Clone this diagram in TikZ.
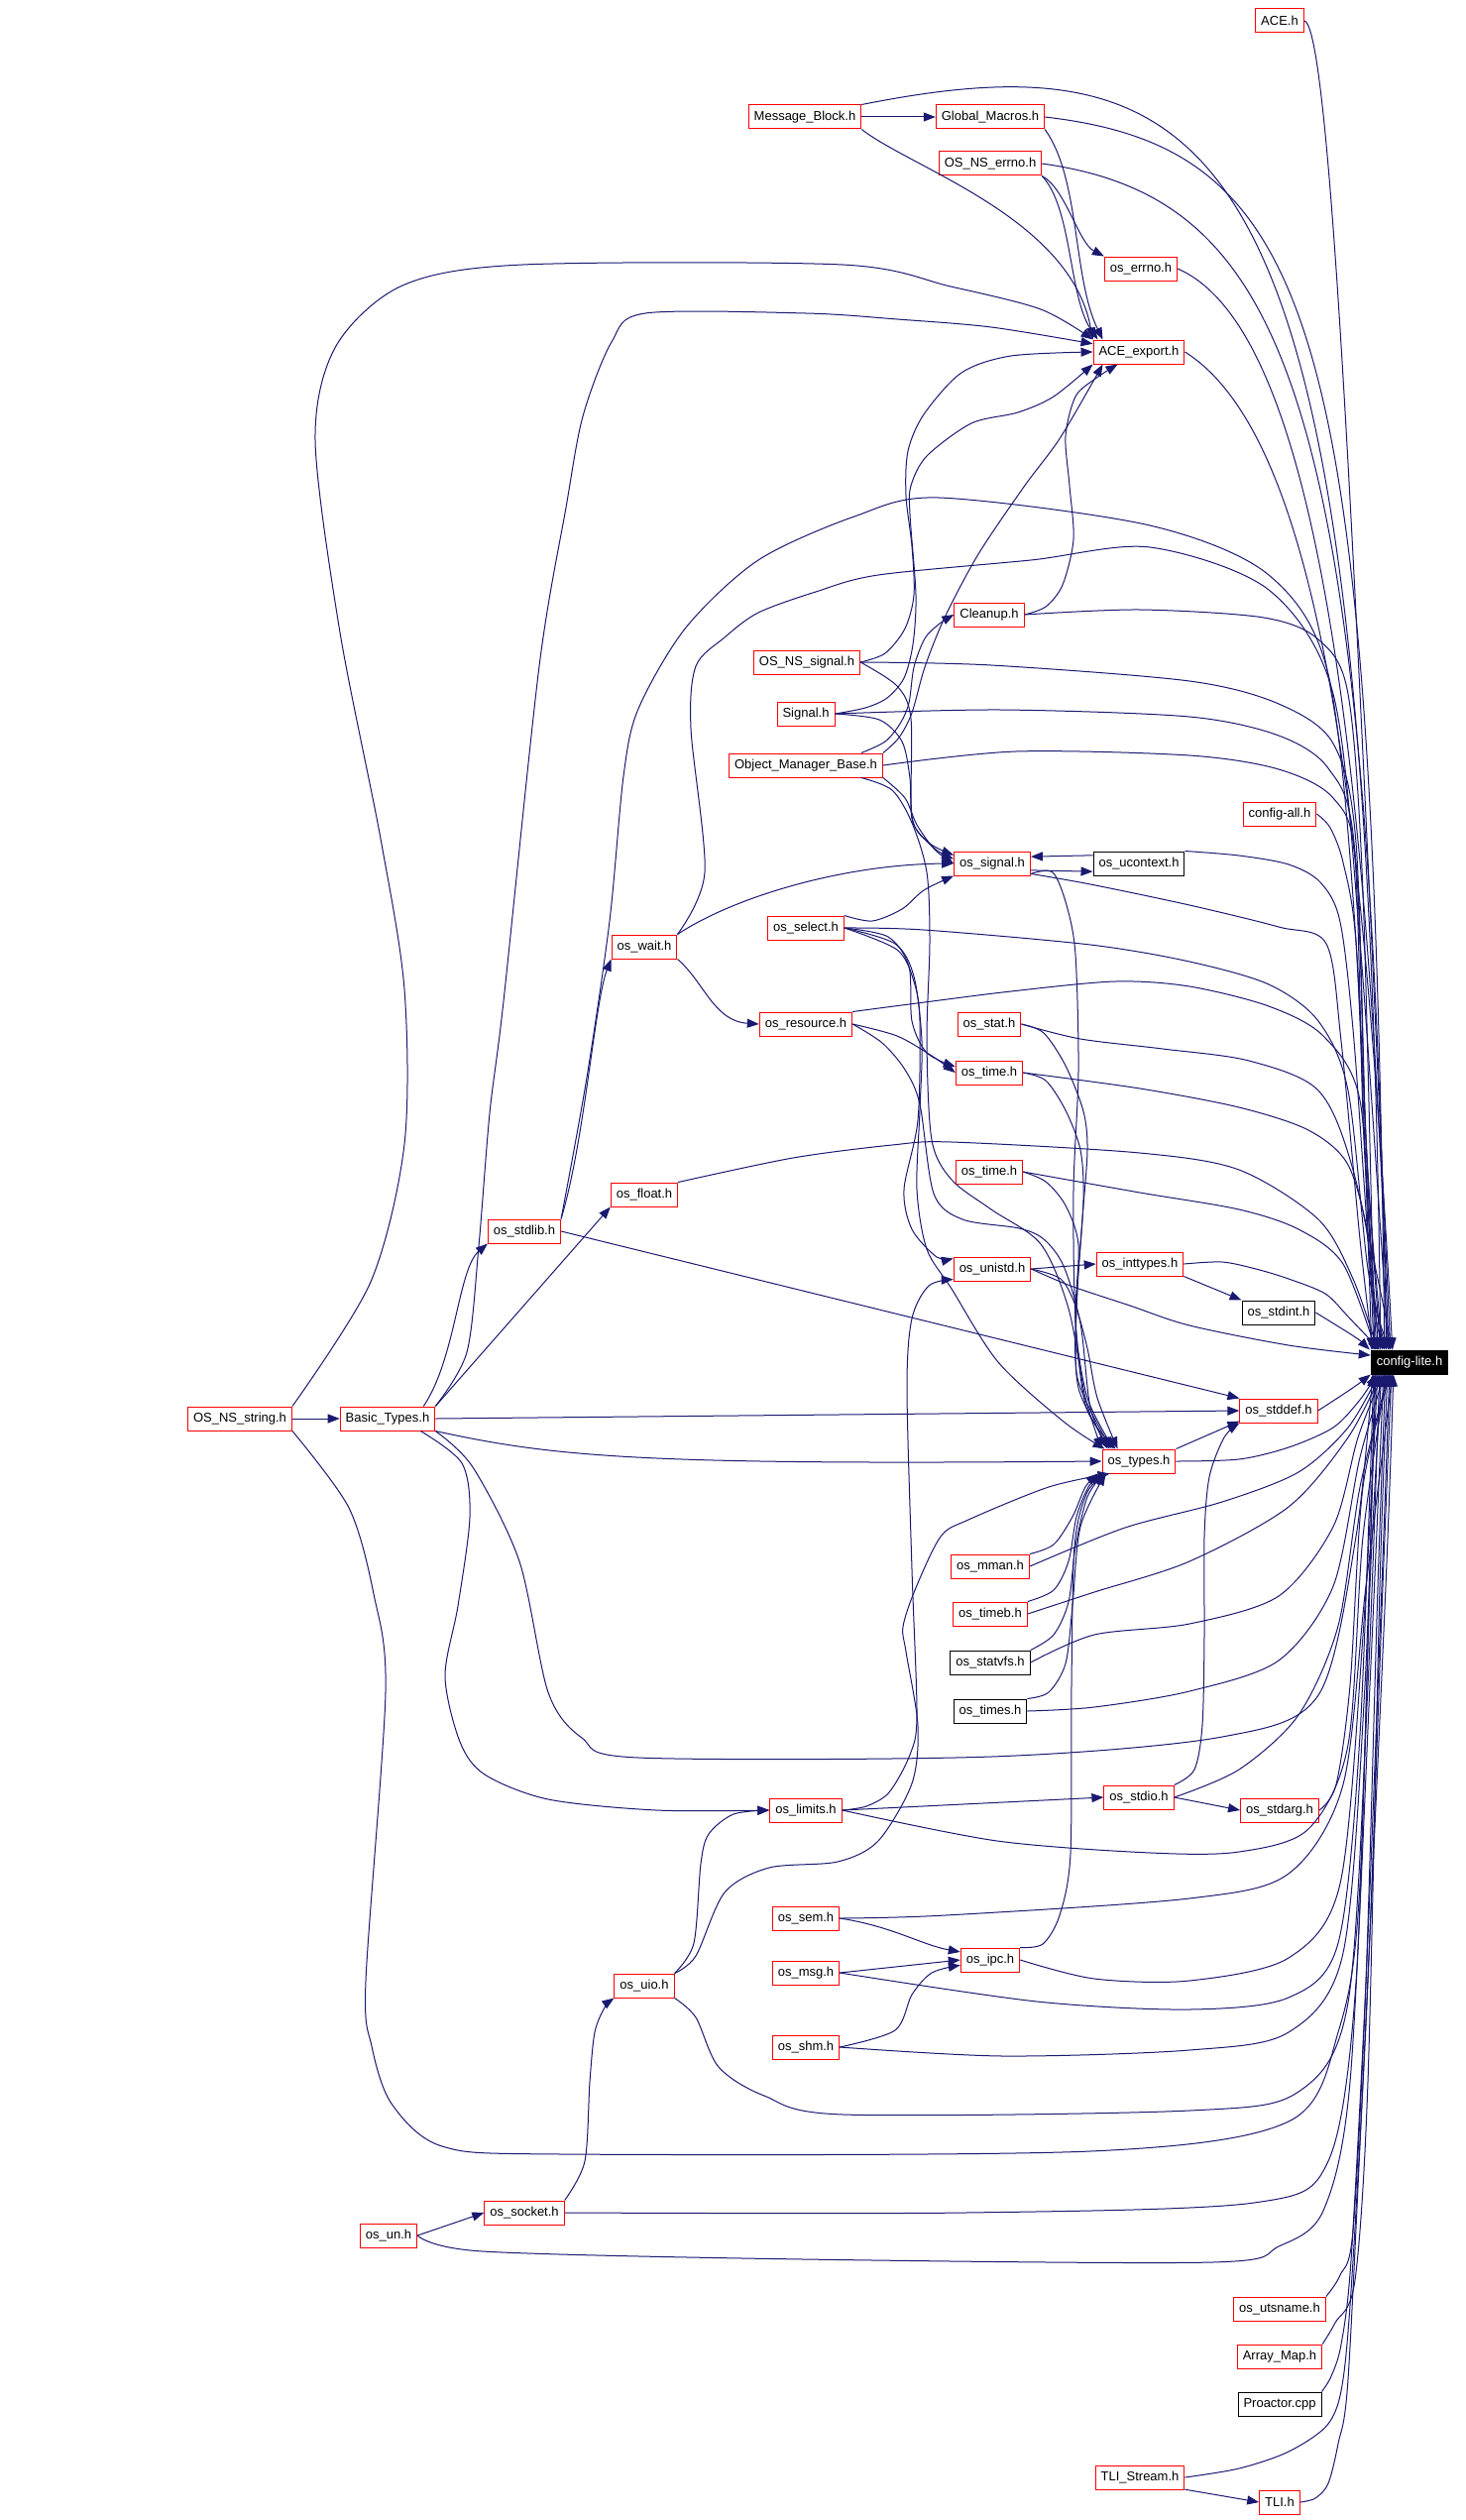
\documentclass[tikz,border=0pt]{standalone}
\usepackage{fontspec}
\setmainfont{Liberation Sans}
\usepackage{xcolor}
\usepackage{tikz}
\usetikzlibrary{arrows.meta}
\definecolor{edgeblue}{HTML}{191970}
\tikzset{HFnode/.style={draw=red,fill=white,line width=1pt,inner xsep=5.5pt,inner ysep=0pt,minimum height=24pt,font=\fontsize{13}{15}\selectfont}}
\tikzset{HFplain/.style={HFnode,draw=black}}
\tikzset{HFroot/.style={HFnode,draw=black,fill=black,text=white}}
\tikzset{INCedge/.style={->,color=edgeblue,line width=1pt}}
\tikzset{>={Triangle[length=12pt,width=9pt]}}

\begin{document}
\begin{tikzpicture}[x=1pt,y=-1pt]
	\useasboundingbox (0,0) rectangle (1478,2542);
	\node[HFnode] (ace) at (1291,21) {ACE.h};
	\node[HFnode] (mblock) at (812,118) {Message\_Block.h};
	\node[HFnode] (gmacros) at (999,118) {Global\_Macros.h};
	\node[HFnode] (nserrno) at (999,165) {OS\_NS\_errno.h};
	\node[HFnode] (errno) at (1151,271) {os\_errno.h};
	\node[HFnode] (export) at (1149,355) {ACE\_export.h};
	\node[HFnode] (cleanup) at (998,620) {Cleanup.h};
	\node[HFnode] (nssignal) at (814,668) {OS\_NS\_signal.h};
	\node[HFnode] (signal) at (813,720) {Signal.h};
	\node[HFnode] (omb) at (813,772) {Object\_Manager\_Base.h};
	\node[HFnode] (cfgall) at (1291,821) {config-all.h};
	\node[HFnode] (ossignal) at (1001,871) {os\_signal.h};
	\node[HFplain] (ucontext) at (1149,871) {os\_ucontext.h};
	\node[HFnode] (select) at (813,936) {os\_select.h};
	\node[HFnode] (wait) at (650,955) {os\_wait.h};
	\node[HFnode] (resource) at (813,1033) {os\_resource.h};
	\node[HFnode] (stat) at (998,1033) {os\_stat.h};
	\node[HFnode] (timeA) at (998,1082) {os\_time.h};
	\node[HFnode] (timeB) at (998,1182) {os\_time.h};
	\node[HFnode] (float) at (650,1205) {os\_float.h};
	\node[HFnode] (stdlib) at (529,1242) {os\_stdlib.h};
	\node[HFnode] (unistd) at (1001,1280) {os\_unistd.h};
	\node[HFnode] (inttypes) at (1150,1275) {os\_inttypes.h};
	\node[HFplain] (stdint) at (1290,1324) {os\_stdint.h};
	\node[HFroot] (lite) at (1422,1374) {config-lite.h};
	\node[HFnode] (nsstring) at (242,1431) {OS\_NS\_string.h};
	\node[HFnode] (btypes) at (391,1431) {Basic\_Types.h};
	\node[HFnode] (stddef) at (1290,1423) {os\_stddef.h};
	\node[HFnode] (types) at (1149,1474) {os\_types.h};
	\node[HFnode] (mman) at (999,1580) {os\_mman.h};
	\node[HFnode] (timeb) at (999,1628) {os\_timeb.h};
	\node[HFplain] (statvfs) at (999,1677) {os\_statvfs.h};
	\node[HFplain] (times) at (999,1726) {os\_times.h};
	\node[HFnode] (limits) at (813,1826) {os\_limits.h};
	\node[HFnode] (stdio) at (1149,1813) {os\_stdio.h};
	\node[HFnode] (stdarg) at (1291,1826) {os\_stdarg.h};
	\node[HFnode] (sem) at (813,1935) {os\_sem.h};
	\node[HFnode] (ipc) at (999,1977) {os\_ipc.h};
	\node[HFnode] (msg) at (813,1990) {os\_msg.h};
	\node[HFnode] (uio) at (650,2003) {os\_uio.h};
	\node[HFnode] (shm) at (813,2065) {os\_shm.h};
	\node[HFnode] (socket) at (529,2232) {os\_socket.h};
	\node[HFnode] (un) at (392,2255) {os\_un.h};
	\node[HFnode] (utsname) at (1291,2329) {os\_utsname.h};
	\node[HFnode] (amap) at (1291,2377) {Array\_Map.h};
	\node[HFplain] (proactor) at (1291,2425) {Proactor.cpp};
	\node[HFnode] (tlistream) at (1150,2499) {TLI\_Stream.h};
	\node[HFnode] (tli) at (1291,2524) {TLI.h};
	%
	\path[INCedge]
	(mblock) edge (gmacros)
	(nsstring) edge (btypes)
	(btypes.north east) edge (float.south west)
	(btypes.east) edge (stddef.west)
	(stdlib.east) edge (stddef.north west)
	(ucontext.170) edge (ossignal.10)
	(ossignal.-10) edge (ucontext.-170)
	(unistd.east) edge (inttypes.west)
	(inttypes.south east) edge (stdint.north west)
	(types.north east) edge (stddef.195)
	(limits.east) edge (stdio.west)
	(stdio.east) edge (stdarg.west)
	(msg.east) edge (ipc.west)
	(un.east) edge (socket.west)
	(tlistream.-15) edge (tli.west);
	%
	\draw[INCedge] (ace.east) .. controls (1345,25) and (1372,700) .. ([xshift=20pt]lite.north west);
	\draw[INCedge] (mblock.north east) .. controls (1250,30) and (1380,150) .. ([xshift=10pt]lite.north west);
	\draw[INCedge] (mblock.south east) .. controls (920,170) and (1080,220) .. (export.north west);
	\draw[INCedge] (gmacros.south east) .. controls (1090,180) and (1082,280) .. ([xshift=10pt]export.north west);
	\draw[INCedge] (gmacros.east) .. controls (1330,150) and (1385,330) .. ([xshift=14pt]lite.north west);
	\draw[INCedge] (nserrno.south east) .. controls (1075,190) and (1088,245) .. (errno.north west);
	\draw[INCedge] (nserrno.south east) .. controls (1082,210) and (1078,300) .. ([xshift=5pt]export.north west);
	\draw[INCedge] (nserrno.east) .. controls (1300,200) and (1380,400) .. ([xshift=16pt]lite.north west);
	\draw[INCedge] (errno.east) .. controls (1300,320) and (1375,600) .. ([xshift=18pt]lite.north west);
	\draw[INCedge] (export.east) .. controls (1330,440) and (1375,800) .. ([xshift=22pt]lite.north west);
	%
	\draw[INCedge] plot[smooth] coordinates {(nsstring.north east) (374,1293) (408,1154) (408,998) (384,846) (343,638) (318,444) (339,349) (406,288) (527,267) (850,267) (959,289) (1050,312) (export.north west)};
	\draw[INCedge] plot[smooth] coordinates {(btypes.north east) (471,1364) (483,1257) (494,1123) (508,1010) (544,672) (571,512) (588,420) (617,345) (651,316) (813,316) (905,322) (1000,330) (export.170)};
	\draw[INCedge] plot[smooth] coordinates {(cleanup.east) (1055,612) (1072,590) (1083,544) (1079,490) (1075,440) (1085,400) (1105,382) ([xshift=25pt]export.south west)};
	\draw[INCedge] plot[smooth] coordinates {(cleanup.east) (1150,615) (1275,623) (1330,645) (1360,700) (1375,900) ([xshift=4pt]lite.north west)};
	%
	\draw[INCedge] plot[smooth] coordinates {(nssignal.east) (893,659) (913,634) (922,600) (920,551) (914,500) (916,455) (932,418) (970,376) (1020,359) (export.west)};
	\draw[INCedge] plot[smooth] coordinates {(nssignal.east) (905,692) (919,725) (920,823) (937,850) ([yshift=-4pt]ossignal.north west)};
	\draw[INCedge] plot[smooth] coordinates {(nssignal.east) (1000,671) (1200,687) (1290,710) (1345,750) (1368,850) (1378,1150) ([xshift=6pt]lite.north west)};
	\draw[INCedge] plot[smooth] coordinates {(signal.east) (873,714) (895,704) (912,684) (921,650) (924,600) (918,519) (919,490) (935,460) (980,427) (1027,416) (1063,400) (export.south west)};
	\draw[INCedge] plot[smooth] coordinates {(signal.east) (887,726) (910,748) (918,785) (921,830) (943,856) ([yshift=-8pt]ossignal.north west)};
	\draw[INCedge] plot[smooth] coordinates {(signal.east) (1010,716) (1200,723) (1290,742) (1340,775) (1366,850) (1376,1150) ([xshift=8pt]lite.north west)};
	\draw[INCedge] plot[smooth] coordinates {([xshift=-22pt]omb.north east) (893,748) (908,730) (917,709) (922,673) (933,644) (948,629) (cleanup.west)};
	\draw[INCedge] plot[smooth] coordinates {(omb.north east) (907,744) (920,719) (933,673) (953,623) (987,559) (1033,491) (1070,441) ([xshift=10pt]export.south west)};
	\draw[INCedge] plot[smooth] coordinates {(omb.east) (1025,758) (1200,762) (1290,776) (1345,805) (1368,870) (1378,1150) ([xshift=10pt]lite.north west)};
	\draw[INCedge] plot[smooth] coordinates {(omb.south east) (913,805) (925,832) (943,857) (ossignal.west)};
	\draw[INCedge] plot[smooth] coordinates {([xshift=-22pt]omb.south east) (900,797) (920,830) (935,880) (938,950) (935,1050) (940,1150) (960,1190) (1000,1220) (1050,1255) (1078,1320) (1095,1410) (types.north west)};
	\draw[INCedge] plot[smooth] coordinates {(cfgall.east) (1342,835) (1355,870) (1368,950) (1381,1200) ([xshift=12pt]lite.north west)};
	%
	\draw[INCedge] plot[smooth] coordinates {(ucontext.north east) (1250,863) (1300,872) (1332,890) (1352,930) (1366,1050) (1384,1300) ([xshift=14pt]lite.north west)};
	\draw[INCedge] plot[smooth] coordinates {(ossignal.-15) (1100,892) (1200,913) (1290,935) (1338,952) (1353,1050) (1372,1250) ([xshift=2pt]lite.north west)};
	\draw[INCedge] plot[smooth] coordinates {(ossignal.-15) (1062,880) (1076,913) (1085,963) (1088,1080) (1083,1200) (1085,1330) (1096,1420) ([xshift=14pt]types.north west)};
	\draw[INCedge] plot[smooth] coordinates {(select.north east) (880,929) (910,917) (932,898) (ossignal.south west)};
	\draw[INCedge] plot[smooth] coordinates {(select.east) (932,938) (1100,953) (1200,970) (1280,993) (1330,1030) (1360,1100) (1380,1280) ([xshift=16pt]lite.north west)};
	\draw[INCedge] plot[smooth] coordinates {(select.east) (896,945) (917,975) (920,1030) (935,1062) (timeA.170)};
	\draw[INCedge] plot[smooth] coordinates {(select.east) (905,958) (922,990) (928,1030) (926,1130) (912,1200) (920,1240) (945,1268) (unistd.165)};
	\draw[INCedge] plot[smooth] coordinates {(select.east) (903,952) (922,985) (930,1050) (928,1120) (925,1200) (935,1260) (960,1300) (1007,1374) (1073,1434) ([xshift=3pt]types.north west)};
	\draw[INCedge] (wait.north east) .. controls (740,905) and (850,872) .. (ossignal.west);
	\draw[INCedge] (wait.south east) .. controls (710,990) and (720,1030) .. (resource.west);
	\draw[INCedge] plot[smooth] coordinates {(wait.north east) (711,880) (697,735) (702,672) (731,643) (765,618) (823,597) (886,580) (1040,565) (1160,552) (1280,595) (1345,700) (1372,950) ([xshift=18pt]lite.north west)};
	\draw[INCedge] plot[smooth] coordinates {(resource.east) (905,1045) (940,1065) (timeA.west)};
	\draw[INCedge] plot[smooth] coordinates {(resource.north east) (925,1012) (1020,1000) (1125,990) (1200,995) (1280,1015) (1335,1045) (1372,1110) (1385,1300) ([xshift=20pt]lite.north west)};
	\draw[INCedge] plot[smooth] coordinates {(resource.east) (890,1052) (913,1079) (928,1114) (942,1204) (971,1230) (1028,1239) (1053,1250) (1073,1277) (1090,1335) (1100,1420) ([xshift=6pt]types.north west)};
	%
	\draw[INCedge] plot[smooth] coordinates {(stat.east) (1053,1042) (1075,1075) (1093,1121) (1097,1160) (1092,1230) (1086,1320) (1088,1400) ([xshift=8pt]types.north west)};
	\draw[INCedge] plot[smooth] coordinates {(stat.east) (1090,1048) (1173,1058) (1260,1070) (1330,1100) (1365,1180) ([xshift=22pt]lite.north west)};
	\draw[INCedge] plot[smooth] coordinates {(timeA.east) (1055,1090) (1075,1120) (1090,1160) (1093,1210) (1087,1300) (1087,1390) ([xshift=10pt]types.north west)};
	\draw[INCedge] plot[smooth] coordinates {(timeA.east) (1150,1098) (1250,1117) (1320,1140) (1360,1175) (1380,1250) ([xshift=3pt]lite.north west)};
	\draw[INCedge] plot[smooth] coordinates {(timeB.east) (1055,1192) (1075,1216) (1088,1256) (1085,1335) (1097,1410) ([xshift=12pt]types.north west)};
	\draw[INCedge] plot[smooth] coordinates {(timeB.east) (1150,1203) (1250,1220) (1310,1240) (1355,1275) ([xshift=5pt]lite.north west)};
	\draw[INCedge] plot[smooth] coordinates {(float.north east) (800,1168) (900,1155) (960,1152) (1150,1163) (1250,1180) (1330,1230) (1365,1290) ([xshift=7pt]lite.north west)};
	\draw[INCedge] (stdlib.north east) .. controls (590,1150) and (600,1010) .. (wait.south west);
	\draw[INCedge] plot[smooth] coordinates {(stdlib.north east) (592,1087) (615,929) (629,783) (644,715) (692,633) (765,565) (862,521) (947,502) (1160,530) (1280,580) (1340,680) (1368,950) ([xshift=1pt]lite.north west)};
	%
	\draw[INCedge] ([xshift=-12pt]btypes.north east) .. controls (460,1370) and (462,1280) .. (stdlib.south west);
	\draw[INCedge] (btypes.south east) .. controls (560,1470) and (650,1478) .. (types.west);
	\draw[INCedge] plot[smooth] coordinates {([xshift=-15pt]btypes.south east) (466,1476) (474,1530) (462,1620) (449,1691) (464,1757) (489,1790) (553,1815) (662,1826) (limits.west)};
	\draw[INCedge] plot[smooth] coordinates {(btypes.south east) (477,1480) (524,1575) (553,1707) (587,1753) (644,1773) (1000,1772) (1233,1752) (1330,1710) (1368,1550) ([xshift=2pt]lite.south west)};
	\draw[INCedge] plot[smooth] coordinates {(nsstring.south east) (352,1521) (377,1608) (389,1707) (369,1998) (375,2064) (395,2122) (446,2165) (568,2173) (1100,2170) (1300,2140) (1350,2050) (1372,1900) ([xshift=4pt]lite.south west)};
	%
	\draw[INCedge] plot[smooth] coordinates {(unistd.east) (1080,1297) (1140,1317) (1200,1337) (1300,1357) (lite.170)};
	\draw[INCedge] plot[smooth] coordinates {(unistd.east) (1070,1290) (1085,1317) (1097,1360) (1107,1410) ([xshift=16pt]types.north west)};
	\draw[INCedge] plot[smooth] coordinates {(inttypes.east) (1233,1273) (1267,1280) (1300,1290) (1337,1305) (1360,1328) ([xshift=9pt]lite.north west)};
	\draw[INCedge] (stdint.east) .. controls (1350,1338) and (1370,1350) .. ([xshift=-1pt]lite.north west);
	\draw[INCedge] (stddef.east) .. controls (1350,1410) and (1368,1398) .. (lite.south west);
	\draw[INCedge] plot[smooth] coordinates {(types.east) (1250,1472) (1300,1460) (1345,1440) (1372,1412) ([xshift=6pt]lite.south west)};
	%
	\draw[INCedge] plot[smooth] coordinates {(mman.north east) (1063,1558) (1082,1530) (1095,1500) ([xshift=-4pt]types.south west)};
	\draw[INCedge] plot[smooth] coordinates {(mman.east) (1135,1541) (1233,1515) (1310,1485) (1360,1440) ([xshift=8pt]lite.south west)};
	\draw[INCedge] plot[smooth] coordinates {(timeb.north east) (1063,1604) (1078,1575) (1086,1530) (1098,1500) ([xshift=-1pt]types.south west)};
	\draw[INCedge] plot[smooth] coordinates {(timeb.east) (1104,1606) (1200,1575) (1300,1520) (1360,1450) ([xshift=10pt]lite.south west)};
	\draw[INCedge] plot[smooth] coordinates {(statvfs.north east) (1063,1649) (1078,1616) (1085,1560) (1097,1510) ([xshift=2pt]types.south west)};
	\draw[INCedge] plot[smooth] coordinates {(statvfs.east) (1104,1649) (1200,1638) (1290,1610) (1345,1540) (1370,1450) ([xshift=12pt]lite.south west)};
	\draw[INCedge] plot[smooth] coordinates {(times.north east) (1058,1707) (1075,1678) (1082,1620) (1090,1540) ([xshift=4pt]types.south west)};
	\draw[INCedge] plot[smooth] coordinates {(times.east) (1104,1722) (1200,1706) (1290,1675) (1345,1600) (1372,1470) ([xshift=14pt]lite.south west)};
	%
	\draw[INCedge] plot[smooth] coordinates {(limits.east) (874,1822) (897,1808) (918,1770) (925,1730) (920,1583) (915,1400) (920,1330) (937,1297) (unistd.195)};
	\draw[INCedge] plot[smooth] coordinates {(limits.east) (1006,1857) (1161,1869) (1250,1868) (1320,1845) (1360,1760) (1375,1550) ([xshift=16pt]lite.south west)};
	\draw[INCedge] plot[smooth] coordinates {(stdio.north east) (1205,1785) (1213,1740) (1215,1650) (1215,1550) (1220,1490) (1235,1450) (stddef.south west)};
	\draw[INCedge] plot[smooth] coordinates {(stdio.east) (1250,1785) (1310,1730) (1350,1640) (1372,1500) ([xshift=18pt]lite.south west)};
	\draw[INCedge] plot[smooth] coordinates {(stdarg.east) (1348,1800) (1362,1700) (1375,1500) ([xshift=20pt]lite.south west)};
	%
	\draw[INCedge] (sem.east) .. controls (900,1943) and (930,1962) .. (ipc.165);
	\draw[INCedge] plot[smooth] coordinates {(sem.east) (954,1932) (1200,1915) (1300,1890) (1355,1800) (1378,1600) ([xshift=22pt]lite.south west)};
	\draw[INCedge] plot[smooth] coordinates {(msg.east) (1046,2019) (1200,2027) (1300,2015) (1350,1960) (1372,1750) ([xshift=3pt]lite.south west)};
	\draw[INCedge] plot[smooth] coordinates {(shm.east) (903,2048) (920,2012) (940,1990) (ipc.190)};
	\draw[INCedge] plot[smooth] coordinates {(shm.east) (1012,2074) (1200,2068) (1300,2050) (1355,1970) (1377,1700) ([xshift=5pt]lite.south west)};
	\draw[INCedge] plot[smooth] coordinates {(ipc.north east) (1052,1961) (1069,1932) (1080,1870) (1081,1700) (1084,1560) (1097,1505) ([xshift=6pt]types.south west)};
	\draw[INCedge] plot[smooth] coordinates {(ipc.east) (1104,1996) (1200,1998) (1300,1975) (1352,1900) (1375,1650) ([xshift=7pt]lite.south west)};
	\draw[INCedge] plot[smooth] coordinates {(uio.north east) (700,1960) (707,1880) (715,1850) (740,1830) (limits.west)};
	\draw[INCedge] plot[smooth] coordinates {(uio.north east) (702,1973) (731,1909) (776,1884) (845,1878) (886,1857) (920,1799) (926,1741) (914,1666) (911,1641) (923,1604) (949,1550) (977,1533) (1058,1500) ([xshift=8pt]types.south west)};
	\draw[INCedge] plot[smooth] coordinates {(uio.south east) (702,2035) (725,2085) (771,2114) (851,2133) (1200,2129) (1310,2110) (1360,2020) (1380,1700) ([xshift=9pt]lite.south west)};
	\draw[INCedge] plot[smooth] coordinates {(socket.north east) (590,2180) (595,2100) (600,2050) (610,2025) (uio.south west)};
	\draw[INCedge] plot[smooth] coordinates {(socket.east) (973,2232) (1265,2222) (1340,2180) (1368,2000) (1382,1600) ([xshift=11pt]lite.south west)};
	\draw[INCedge] plot[smooth] coordinates {(un.east) (487,2271) (811,2279) (1223,2282) (1290,2266) (1335,2230) (1362,2100) (1382,1700) ([xshift=13pt]lite.south west)};
	%
	\draw[INCedge] plot[smooth] coordinates {(utsname.north east) (1352,2295) (1365,2250) (1378,2000) (1390,1600) ([xshift=15pt]lite.south west)};
	\draw[INCedge] plot[smooth] coordinates {(amap.north east) (1347,2343) (1367,2300) (1380,2100) (1392,1600) ([xshift=17pt]lite.south west)};
	\draw[INCedge] plot[smooth] coordinates {(proactor.north east) (1343,2397) (1353,2365) (1363,2280) (1378,2000) (1394,1600) ([xshift=19pt]lite.south west)};
	\draw[INCedge] plot[smooth] coordinates {(tlistream.east) (1250,2490) (1300,2473) (1340,2445) (1355,2400) (1365,2280) (1380,2000) (1395,1600) ([xshift=21pt]lite.south west)};
	\draw[INCedge] plot[smooth] coordinates {(tli.east) (1327,2520) (1340,2505) (1350,2465) (1360,2400) (1375,2100) (1398,1600) ([xshift=23pt]lite.south west)};
\end{tikzpicture}
\end{document}
